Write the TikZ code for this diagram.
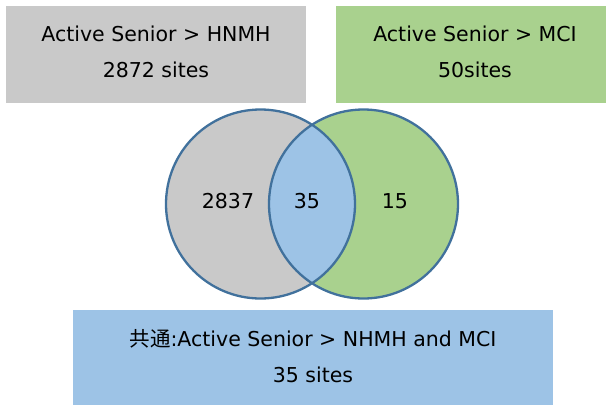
\documentclass[tikz,border=0pt]{standalone}
\usepackage{fontspec}
\setmainfont{DejaVu Sans}
\newfontfamily\jpfont{Noto Sans CJK JP}
\usetikzlibrary{positioning}

\definecolor{hnmhgray}{HTML}{C9C9C9}
\definecolor{mcigreen}{HTML}{A9D18E}
\definecolor{bothblue}{HTML}{9DC3E6}
\definecolor{rimblue}{HTML}{41719C}

\tikzset{
  setbox/.style={inner sep=0pt},
  settext/.style={inner sep=0pt, align=center, font=\fontsize{20.5}{36}\selectfont},
  setnum/.style={inner sep=0pt, font=\fontsize{20.5}{24}\selectfont},
  rim/.style={draw=rimblue, line width=2.3pt},
}

\begin{document}
\begin{tikzpicture}[x=1pt,y=-1pt]
  \useasboundingbox (0,0) rectangle (606,405);

  % the two groups and the shared part
  \node[setbox, fill=hnmhgray, minimum width=300pt, minimum height=97pt] (hnmh) at (156,54.5) {};
  \node[settext] (hnmhtext) at ([yshift=2.5pt]hnmh.center) {Active Senior > HNMH\\2872 sites};
  \node[setbox, fill=mcigreen, minimum width=270pt, minimum height=97pt] (mci) at (471,54.5) {};
  \node[settext] (mcitext) at ([xshift=4pt,yshift=2.5pt]mci.center) {Active Senior > MCI\\50sites};
  \node[setbox, fill=bothblue, minimum width=480pt, minimum height=95pt] (both) at (313,357.5) {};
  \node[settext] (bothtext) at ([yshift=1pt]both.center)
    {{\jpfont 共通}:Active Senior > NHMH and MCI\\35 sites};

  % venn circles
  \coordinate (lc) at (260.5,204);
  \coordinate (rc) at (363.5,204);
  \fill[hnmhgray] (lc) circle (94.5);
  \fill[mcigreen] (rc) circle (94.5);
  \begin{scope}
    \clip (lc) circle (94.5);
    \fill[bothblue] (rc) circle (94.5);
  \end{scope}
  \draw[rim] (lc) circle (94.5);
  \draw[rim] (rc) circle (94.5);

  \node[setnum] (onlyhnmh) at (228,201) {2837};
  \node[setnum] (shared) at (307,201) {35};
  \node[setnum] (onlymci) at (395,201) {15};
\end{tikzpicture}
\end{document}
